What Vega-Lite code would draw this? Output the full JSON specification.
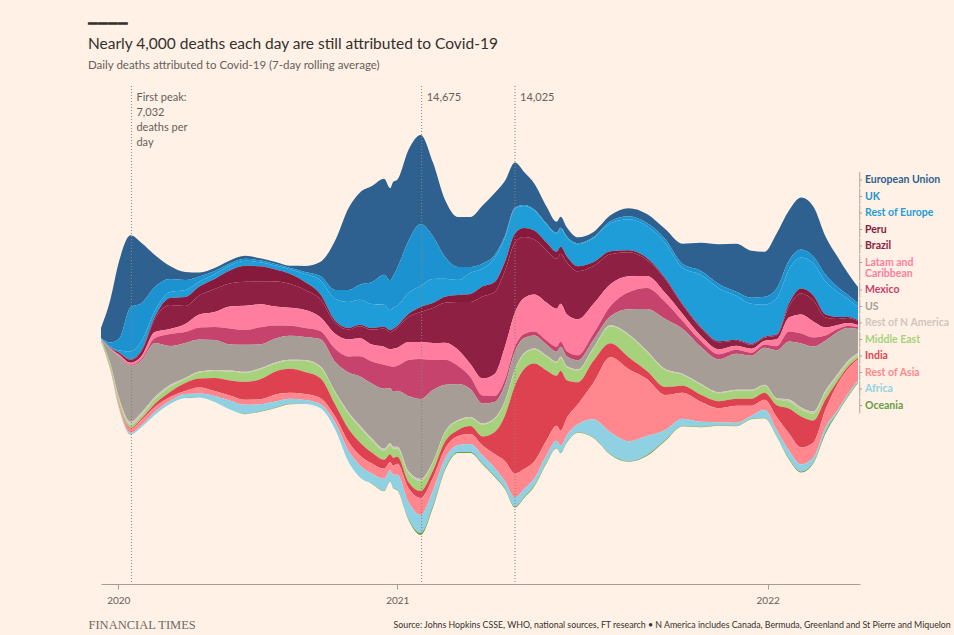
{
"$schema": "https://vega.github.io/schema/vega-lite/v6.json",
"width": 759, "height": 498,
"autosize": {"type": "none"},
"padding": {"left": 101, "top": 86, "right": 94, "bottom": 51},
"background": "#fff1e5",
"config": {"view": {"stroke": null}, "font": "Lato"},
"title": {
  "text": ["━━━━", "Nearly 4,000 deaths each day are still attributed to Covid-19"],
  "subtitle": "Daily deaths attributed to Covid-19 (7-day rolling average)",
  "anchor": "start", "frame": "group", "dx": -13, "offset": 14,
  "font": "Lato", "fontSize": 15.5, "fontWeight": "normal", "color": "#33302e", "lineHeight": 20,
  "subtitleFont": "Lato", "subtitleFontSize": 11.5, "subtitleColor": "#66605c", "subtitlePadding": 8
},
"layer": [
{
"data": {"values": [
{"d":"2020-03-15","r":"European Union","v":370},{"d":"2020-03-15","r":"UK","v":19},{"d":"2020-03-15","r":"Rest of Europe","v":11},{"d":"2020-03-15","r":"Peru","v":0},{"d":"2020-03-15","r":"Brazil","v":0},{"d":"2020-03-15","r":"Latam and Caribbean","v":4},{"d":"2020-03-15","r":"Mexico","v":0},{"d":"2020-03-15","r":"US","v":26},{"d":"2020-03-15","r":"Rest of N America","v":4},{"d":"2020-03-15","r":"Middle East","v":56},{"d":"2020-03-15","r":"India","v":0},{"d":"2020-03-15","r":"Rest of Asia","v":22},{"d":"2020-03-15","r":"Africa","v":4},{"d":"2020-03-15","r":"Oceania","v":0},
{"d":"2020-03-24","r":"European Union","v":1554},{"d":"2020-03-24","r":"UK","v":148},{"d":"2020-03-24","r":"Rest of Europe","v":37},{"d":"2020-03-24","r":"Peru","v":7},{"d":"2020-03-24","r":"Brazil","v":19},{"d":"2020-03-24","r":"Latam and Caribbean","v":19},{"d":"2020-03-24","r":"Mexico","v":7},{"d":"2020-03-24","r":"US","v":518},{"d":"2020-03-24","r":"Rest of N America","v":22},{"d":"2020-03-24","r":"Middle East","v":148},{"d":"2020-03-24","r":"India","v":11},{"d":"2020-03-24","r":"Rest of Asia","v":44},{"d":"2020-03-24","r":"Africa","v":19},{"d":"2020-03-24","r":"Oceania","v":0},
{"d":"2020-04-02","r":"European Union","v":2886},{"d":"2020-04-02","r":"UK","v":444},{"d":"2020-04-02","r":"Rest of Europe","v":74},{"d":"2020-04-02","r":"Peru","v":11},{"d":"2020-04-02","r":"Brazil","v":74},{"d":"2020-04-02","r":"Latam and Caribbean","v":56},{"d":"2020-04-02","r":"Mexico","v":19},{"d":"2020-04-02","r":"US","v":1554},{"d":"2020-04-02","r":"Rest of N America","v":74},{"d":"2020-04-02","r":"Middle East","v":148},{"d":"2020-04-02","r":"India","v":19},{"d":"2020-04-02","r":"Rest of Asia","v":111},{"d":"2020-04-02","r":"Africa","v":37},{"d":"2020-04-02","r":"Oceania","v":7},
{"d":"2020-04-13","r":"European Union","v":2664},{"d":"2020-04-13","r":"UK","v":1628},{"d":"2020-04-13","r":"Rest of Europe","v":296},{"d":"2020-04-13","r":"Peru","v":19},{"d":"2020-04-13","r":"Brazil","v":111},{"d":"2020-04-13","r":"Latam and Caribbean","v":74},{"d":"2020-04-13","r":"Mexico","v":37},{"d":"2020-04-13","r":"US","v":2072},{"d":"2020-04-13","r":"Rest of N America","v":111},{"d":"2020-04-13","r":"Middle East","v":111},{"d":"2020-04-13","r":"India","v":37},{"d":"2020-04-13","r":"Rest of Asia","v":148},{"d":"2020-04-13","r":"Africa","v":56},{"d":"2020-04-13","r":"Oceania","v":11},
{"d":"2020-04-24","r":"European Union","v":2220},{"d":"2020-04-24","r":"UK","v":1406},{"d":"2020-04-24","r":"Rest of Europe","v":333},{"d":"2020-04-24","r":"Peru","v":37},{"d":"2020-04-24","r":"Brazil","v":185},{"d":"2020-04-24","r":"Latam and Caribbean","v":111},{"d":"2020-04-24","r":"Mexico","v":56},{"d":"2020-04-24","r":"US","v":1924},{"d":"2020-04-24","r":"Rest of N America","v":111},{"d":"2020-04-24","r":"Middle East","v":111},{"d":"2020-04-24","r":"India","v":56},{"d":"2020-04-24","r":"Rest of Asia","v":185},{"d":"2020-04-24","r":"Africa","v":74},{"d":"2020-04-24","r":"Oceania","v":7},
{"d":"2020-05-07","r":"European Union","v":1184},{"d":"2020-05-07","r":"UK","v":888},{"d":"2020-05-07","r":"Rest of Europe","v":222},{"d":"2020-05-07","r":"Peru","v":74},{"d":"2020-05-07","r":"Brazil","v":481},{"d":"2020-05-07","r":"Latam and Caribbean","v":222},{"d":"2020-05-07","r":"Mexico","v":185},{"d":"2020-05-07","r":"US","v":1998},{"d":"2020-05-07","r":"Rest of N America","v":74},{"d":"2020-05-07","r":"Middle East","v":185},{"d":"2020-05-07","r":"India","v":111},{"d":"2020-05-07","r":"Rest of Asia","v":185},{"d":"2020-05-07","r":"Africa","v":111},{"d":"2020-05-07","r":"Oceania","v":7},
{"d":"2020-05-22","r":"European Union","v":481},{"d":"2020-05-22","r":"UK","v":481},{"d":"2020-05-22","r":"Rest of Europe","v":222},{"d":"2020-05-22","r":"Peru","v":259},{"d":"2020-05-22","r":"Brazil","v":888},{"d":"2020-05-22","r":"Latam and Caribbean","v":185},{"d":"2020-05-22","r":"Mexico","v":444},{"d":"2020-05-22","r":"US","v":1443},{"d":"2020-05-22","r":"Rest of N America","v":74},{"d":"2020-05-22","r":"Middle East","v":185},{"d":"2020-05-22","r":"India","v":185},{"d":"2020-05-22","r":"Rest of Asia","v":148},{"d":"2020-05-22","r":"Africa","v":111},{"d":"2020-05-22","r":"Oceania","v":7},
{"d":"2020-06-06","r":"European Union","v":296},{"d":"2020-06-06","r":"UK","v":370},{"d":"2020-06-06","r":"Rest of Europe","v":259},{"d":"2020-06-06","r":"Peru","v":333},{"d":"2020-06-06","r":"Brazil","v":666},{"d":"2020-06-06","r":"Latam and Caribbean","v":296},{"d":"2020-06-06","r":"Mexico","v":407},{"d":"2020-06-06","r":"US","v":1295},{"d":"2020-06-06","r":"Rest of N America","v":37},{"d":"2020-06-06","r":"Middle East","v":148},{"d":"2020-06-06","r":"India","v":296},{"d":"2020-06-06","r":"Rest of Asia","v":111},{"d":"2020-06-06","r":"Africa","v":148},{"d":"2020-06-06","r":"Oceania","v":7},
{"d":"2020-06-20","r":"European Union","v":148},{"d":"2020-06-20","r":"UK","v":185},{"d":"2020-06-20","r":"Rest of Europe","v":185},{"d":"2020-06-20","r":"Peru","v":333},{"d":"2020-06-20","r":"Brazil","v":703},{"d":"2020-06-20","r":"Latam and Caribbean","v":481},{"d":"2020-06-20","r":"Mexico","v":444},{"d":"2020-06-20","r":"US","v":1184},{"d":"2020-06-20","r":"Rest of N America","v":37},{"d":"2020-06-20","r":"Middle East","v":222},{"d":"2020-06-20","r":"India","v":333},{"d":"2020-06-20","r":"Rest of Asia","v":222},{"d":"2020-06-20","r":"Africa","v":148},{"d":"2020-06-20","r":"Oceania","v":7},
{"d":"2020-07-05","r":"European Union","v":111},{"d":"2020-07-05","r":"UK","v":111},{"d":"2020-07-05","r":"Rest of Europe","v":185},{"d":"2020-07-05","r":"Peru","v":370},{"d":"2020-07-05","r":"Brazil","v":851},{"d":"2020-07-05","r":"Latam and Caribbean","v":555},{"d":"2020-07-05","r":"Mexico","v":481},{"d":"2020-07-05","r":"US","v":1110},{"d":"2020-07-05","r":"Rest of N America","v":37},{"d":"2020-07-05","r":"Middle East","v":259},{"d":"2020-07-05","r":"India","v":481},{"d":"2020-07-05","r":"Rest of Asia","v":185},{"d":"2020-07-05","r":"Africa","v":222},{"d":"2020-07-05","r":"Oceania","v":7},
{"d":"2020-07-20","r":"European Union","v":111},{"d":"2020-07-20","r":"UK","v":74},{"d":"2020-07-20","r":"Rest of Europe","v":185},{"d":"2020-07-20","r":"Peru","v":481},{"d":"2020-07-20","r":"Brazil","v":851},{"d":"2020-07-20","r":"Latam and Caribbean","v":814},{"d":"2020-07-20","r":"Mexico","v":592},{"d":"2020-07-20","r":"US","v":962},{"d":"2020-07-20","r":"Rest of N America","v":37},{"d":"2020-07-20","r":"Middle East","v":333},{"d":"2020-07-20","r":"India","v":555},{"d":"2020-07-20","r":"Rest of Asia","v":185},{"d":"2020-07-20","r":"Africa","v":333},{"d":"2020-07-20","r":"Oceania","v":7},
{"d":"2020-08-04","r":"European Union","v":111},{"d":"2020-08-04","r":"UK","v":74},{"d":"2020-08-04","r":"Rest of Europe","v":185},{"d":"2020-08-04","r":"Peru","v":592},{"d":"2020-08-04","r":"Brazil","v":888},{"d":"2020-08-04","r":"Latam and Caribbean","v":888},{"d":"2020-08-04","r":"Mexico","v":555},{"d":"2020-08-04","r":"US","v":999},{"d":"2020-08-04","r":"Rest of N America","v":37},{"d":"2020-08-04","r":"Middle East","v":333},{"d":"2020-08-04","r":"India","v":666},{"d":"2020-08-04","r":"Rest of Asia","v":185},{"d":"2020-08-04","r":"Africa","v":333},{"d":"2020-08-04","r":"Oceania","v":11},
{"d":"2020-08-19","r":"European Union","v":74},{"d":"2020-08-19","r":"UK","v":74},{"d":"2020-08-19","r":"Rest of Europe","v":148},{"d":"2020-08-19","r":"Peru","v":555},{"d":"2020-08-19","r":"Brazil","v":851},{"d":"2020-08-19","r":"Latam and Caribbean","v":851},{"d":"2020-08-19","r":"Mexico","v":629},{"d":"2020-08-19","r":"US","v":888},{"d":"2020-08-19","r":"Rest of N America","v":37},{"d":"2020-08-19","r":"Middle East","v":370},{"d":"2020-08-19","r":"India","v":740},{"d":"2020-08-19","r":"Rest of Asia","v":185},{"d":"2020-08-19","r":"Africa","v":259},{"d":"2020-08-19","r":"Oceania","v":11},
{"d":"2020-09-03","r":"European Union","v":74},{"d":"2020-09-03","r":"UK","v":56},{"d":"2020-09-03","r":"Rest of Europe","v":148},{"d":"2020-09-03","r":"Peru","v":444},{"d":"2020-09-03","r":"Brazil","v":925},{"d":"2020-09-03","r":"Latam and Caribbean","v":703},{"d":"2020-09-03","r":"Mexico","v":481},{"d":"2020-09-03","r":"US","v":888},{"d":"2020-09-03","r":"Rest of N America","v":37},{"d":"2020-09-03","r":"Middle East","v":296},{"d":"2020-09-03","r":"India","v":851},{"d":"2020-09-03","r":"Rest of Asia","v":259},{"d":"2020-09-03","r":"Africa","v":222},{"d":"2020-09-03","r":"Oceania","v":11},
{"d":"2020-09-17","r":"European Union","v":74},{"d":"2020-09-17","r":"UK","v":56},{"d":"2020-09-17","r":"Rest of Europe","v":167},{"d":"2020-09-17","r":"Peru","v":370},{"d":"2020-09-17","r":"Brazil","v":888},{"d":"2020-09-17","r":"Latam and Caribbean","v":666},{"d":"2020-09-17","r":"Mexico","v":370},{"d":"2020-09-17","r":"US","v":888},{"d":"2020-09-17","r":"Rest of N America","v":37},{"d":"2020-09-17","r":"Middle East","v":296},{"d":"2020-09-17","r":"India","v":888},{"d":"2020-09-17","r":"Rest of Asia","v":222},{"d":"2020-09-17","r":"Africa","v":185},{"d":"2020-09-17","r":"Oceania","v":11},
{"d":"2020-10-02","r":"European Union","v":222},{"d":"2020-10-02","r":"UK","v":74},{"d":"2020-10-02","r":"Rest of Europe","v":296},{"d":"2020-10-02","r":"Peru","v":296},{"d":"2020-10-02","r":"Brazil","v":740},{"d":"2020-10-02","r":"Latam and Caribbean","v":666},{"d":"2020-10-02","r":"Mexico","v":333},{"d":"2020-10-02","r":"US","v":851},{"d":"2020-10-02","r":"Rest of N America","v":37},{"d":"2020-10-02","r":"Middle East","v":407},{"d":"2020-10-02","r":"India","v":814},{"d":"2020-10-02","r":"Rest of Asia","v":222},{"d":"2020-10-02","r":"Africa","v":148},{"d":"2020-10-02","r":"Oceania","v":7},
{"d":"2020-10-17","r":"European Union","v":518},{"d":"2020-10-17","r":"UK","v":148},{"d":"2020-10-17","r":"Rest of Europe","v":518},{"d":"2020-10-17","r":"Peru","v":185},{"d":"2020-10-17","r":"Brazil","v":666},{"d":"2020-10-17","r":"Latam and Caribbean","v":518},{"d":"2020-10-17","r":"Mexico","v":296},{"d":"2020-10-17","r":"US","v":999},{"d":"2020-10-17","r":"Rest of N America","v":37},{"d":"2020-10-17","r":"Middle East","v":407},{"d":"2020-10-17","r":"India","v":740},{"d":"2020-10-17","r":"Rest of Asia","v":222},{"d":"2020-10-17","r":"Africa","v":148},{"d":"2020-10-17","r":"Oceania","v":7},
{"d":"2020-11-01","r":"European Union","v":1850},{"d":"2020-11-01","r":"UK","v":333},{"d":"2020-11-01","r":"Rest of Europe","v":814},{"d":"2020-11-01","r":"Peru","v":74},{"d":"2020-11-01","r":"Brazil","v":407},{"d":"2020-11-01","r":"Latam and Caribbean","v":555},{"d":"2020-11-01","r":"Mexico","v":481},{"d":"2020-11-01","r":"US","v":1110},{"d":"2020-11-01","r":"Rest of N America","v":37},{"d":"2020-11-01","r":"Middle East","v":444},{"d":"2020-11-01","r":"India","v":444},{"d":"2020-11-01","r":"Rest of Asia","v":222},{"d":"2020-11-01","r":"Africa","v":259},{"d":"2020-11-01","r":"Oceania","v":7},
{"d":"2020-11-14","r":"European Union","v":3034},{"d":"2020-11-14","r":"UK","v":444},{"d":"2020-11-14","r":"Rest of Europe","v":962},{"d":"2020-11-14","r":"Peru","v":56},{"d":"2020-11-14","r":"Brazil","v":370},{"d":"2020-11-14","r":"Latam and Caribbean","v":629},{"d":"2020-11-14","r":"Mexico","v":592},{"d":"2020-11-14","r":"US","v":1480},{"d":"2020-11-14","r":"Rest of N America","v":56},{"d":"2020-11-14","r":"Middle East","v":555},{"d":"2020-11-14","r":"India","v":481},{"d":"2020-11-14","r":"Rest of Asia","v":333},{"d":"2020-11-14","r":"Africa","v":407},{"d":"2020-11-14","r":"Oceania","v":7},
{"d":"2020-11-25","r":"European Union","v":3404},{"d":"2020-11-25","r":"UK","v":555},{"d":"2020-11-25","r":"Rest of Europe","v":925},{"d":"2020-11-25","r":"Peru","v":56},{"d":"2020-11-25","r":"Brazil","v":444},{"d":"2020-11-25","r":"Latam and Caribbean","v":666},{"d":"2020-11-25","r":"Mexico","v":740},{"d":"2020-11-25","r":"US","v":1813},{"d":"2020-11-25","r":"Rest of N America","v":74},{"d":"2020-11-25","r":"Middle East","v":555},{"d":"2020-11-25","r":"India","v":481},{"d":"2020-11-25","r":"Rest of Asia","v":370},{"d":"2020-11-25","r":"Africa","v":444},{"d":"2020-11-25","r":"Oceania","v":7},
{"d":"2020-12-07","r":"European Union","v":3552},{"d":"2020-12-07","r":"UK","v":814},{"d":"2020-12-07","r":"Rest of Europe","v":888},{"d":"2020-12-07","r":"Peru","v":56},{"d":"2020-12-07","r":"Brazil","v":555},{"d":"2020-12-07","r":"Latam and Caribbean","v":629},{"d":"2020-12-07","r":"Mexico","v":814},{"d":"2020-12-07","r":"US","v":2035},{"d":"2020-12-07","r":"Rest of N America","v":74},{"d":"2020-12-07","r":"Middle East","v":444},{"d":"2020-12-07","r":"India","v":407},{"d":"2020-12-07","r":"Rest of Asia","v":370},{"d":"2020-12-07","r":"Africa","v":370},{"d":"2020-12-07","r":"Oceania","v":11},
{"d":"2020-12-19","r":"European Union","v":3552},{"d":"2020-12-19","r":"UK","v":1110},{"d":"2020-12-19","r":"Rest of Europe","v":814},{"d":"2020-12-19","r":"Peru","v":74},{"d":"2020-12-19","r":"Brazil","v":666},{"d":"2020-12-19","r":"Latam and Caribbean","v":666},{"d":"2020-12-19","r":"Mexico","v":888},{"d":"2020-12-19","r":"US","v":2220},{"d":"2020-12-19","r":"Rest of N America","v":74},{"d":"2020-12-19","r":"Middle East","v":333},{"d":"2020-12-19","r":"India","v":333},{"d":"2020-12-19","r":"Rest of Asia","v":370},{"d":"2020-12-19","r":"Africa","v":444},{"d":"2020-12-19","r":"Oceania","v":11},
{"d":"2020-12-25","r":"European Union","v":3404},{"d":"2020-12-25","r":"UK","v":1110},{"d":"2020-12-25","r":"Rest of Europe","v":740},{"d":"2020-12-25","r":"Peru","v":74},{"d":"2020-12-25","r":"Brazil","v":629},{"d":"2020-12-25","r":"Latam and Caribbean","v":629},{"d":"2020-12-25","r":"Mexico","v":814},{"d":"2020-12-25","r":"US","v":2035},{"d":"2020-12-25","r":"Rest of N America","v":74},{"d":"2020-12-25","r":"Middle East","v":333},{"d":"2020-12-25","r":"India","v":296},{"d":"2020-12-25","r":"Rest of Asia","v":296},{"d":"2020-12-25","r":"Africa","v":407},{"d":"2020-12-25","r":"Oceania","v":11},
{"d":"2020-12-28","r":"European Union","v":3478},{"d":"2020-12-28","r":"UK","v":1184},{"d":"2020-12-28","r":"Rest of Europe","v":777},{"d":"2020-12-28","r":"Peru","v":74},{"d":"2020-12-28","r":"Brazil","v":666},{"d":"2020-12-28","r":"Latam and Caribbean","v":666},{"d":"2020-12-28","r":"Mexico","v":925},{"d":"2020-12-28","r":"US","v":2035},{"d":"2020-12-28","r":"Rest of N America","v":74},{"d":"2020-12-28","r":"Middle East","v":333},{"d":"2020-12-28","r":"India","v":296},{"d":"2020-12-28","r":"Rest of Asia","v":333},{"d":"2020-12-28","r":"Africa","v":481},{"d":"2020-12-28","r":"Oceania","v":11},
{"d":"2021-01-01","r":"European Union","v":3256},{"d":"2021-01-01","r":"UK","v":1406},{"d":"2021-01-01","r":"Rest of Europe","v":740},{"d":"2021-01-01","r":"Peru","v":74},{"d":"2021-01-01","r":"Brazil","v":740},{"d":"2021-01-01","r":"Latam and Caribbean","v":666},{"d":"2021-01-01","r":"Mexico","v":925},{"d":"2021-01-01","r":"US","v":2072},{"d":"2021-01-01","r":"Rest of N America","v":74},{"d":"2021-01-01","r":"Middle East","v":296},{"d":"2021-01-01","r":"India","v":259},{"d":"2021-01-01","r":"Rest of Asia","v":407},{"d":"2021-01-01","r":"Africa","v":555},{"d":"2021-01-01","r":"Oceania","v":19},
{"d":"2021-01-12","r":"European Union","v":3367},{"d":"2021-01-12","r":"UK","v":1924},{"d":"2021-01-12","r":"Rest of Europe","v":777},{"d":"2021-01-12","r":"Peru","v":111},{"d":"2021-01-12","r":"Brazil","v":925},{"d":"2021-01-12","r":"Latam and Caribbean","v":666},{"d":"2021-01-12","r":"Mexico","v":1332},{"d":"2021-01-12","r":"US","v":2775},{"d":"2021-01-12","r":"Rest of N America","v":74},{"d":"2021-01-12","r":"Middle East","v":333},{"d":"2021-01-12","r":"India","v":222},{"d":"2021-01-12","r":"Rest of Asia","v":518},{"d":"2021-01-12","r":"Africa","v":629},{"d":"2021-01-12","r":"Oceania","v":37},
{"d":"2021-01-24","r":"European Union","v":3293},{"d":"2021-01-24","r":"UK","v":2294},{"d":"2021-01-24","r":"Rest of Europe","v":777},{"d":"2021-01-24","r":"Peru","v":185},{"d":"2021-01-24","r":"Brazil","v":1110},{"d":"2021-01-24","r":"Latam and Caribbean","v":629},{"d":"2021-01-24","r":"Mexico","v":1480},{"d":"2021-01-24","r":"US","v":2960},{"d":"2021-01-24","r":"Rest of N America","v":74},{"d":"2021-01-24","r":"Middle East","v":370},{"d":"2021-01-24","r":"India","v":259},{"d":"2021-01-24","r":"Rest of Asia","v":629},{"d":"2021-01-24","r":"Africa","v":666},{"d":"2021-01-24","r":"Oceania","v":74},
{"d":"2021-02-05","r":"European Union","v":2738},{"d":"2021-02-05","r":"UK","v":1591},{"d":"2021-02-05","r":"Rest of Europe","v":888},{"d":"2021-02-05","r":"Peru","v":185},{"d":"2021-02-05","r":"Brazil","v":1295},{"d":"2021-02-05","r":"Latam and Caribbean","v":629},{"d":"2021-02-05","r":"Mexico","v":1110},{"d":"2021-02-05","r":"US","v":2664},{"d":"2021-02-05","r":"Rest of N America","v":37},{"d":"2021-02-05","r":"Middle East","v":296},{"d":"2021-02-05","r":"India","v":259},{"d":"2021-02-05","r":"Rest of Asia","v":481},{"d":"2021-02-05","r":"Africa","v":555},{"d":"2021-02-05","r":"Oceania","v":74},
{"d":"2021-02-17","r":"European Union","v":2109},{"d":"2021-02-17","r":"UK","v":814},{"d":"2021-02-17","r":"Rest of Europe","v":666},{"d":"2021-02-17","r":"Peru","v":222},{"d":"2021-02-17","r":"Brazil","v":1480},{"d":"2021-02-17","r":"Latam and Caribbean","v":629},{"d":"2021-02-17","r":"Mexico","v":925},{"d":"2021-02-17","r":"US","v":1739},{"d":"2021-02-17","r":"Rest of N America","v":37},{"d":"2021-02-17","r":"Middle East","v":333},{"d":"2021-02-17","r":"India","v":259},{"d":"2021-02-17","r":"Rest of Asia","v":370},{"d":"2021-02-17","r":"Africa","v":370},{"d":"2021-02-17","r":"Oceania","v":56},
{"d":"2021-03-02","r":"European Union","v":1850},{"d":"2021-03-02","r":"UK","v":481},{"d":"2021-03-02","r":"Rest of Europe","v":555},{"d":"2021-03-02","r":"Peru","v":259},{"d":"2021-03-02","r":"Brazil","v":1776},{"d":"2021-03-02","r":"Latam and Caribbean","v":592},{"d":"2021-03-02","r":"Mexico","v":666},{"d":"2021-03-02","r":"US","v":1332},{"d":"2021-03-02","r":"Rest of N America","v":37},{"d":"2021-03-02","r":"Middle East","v":333},{"d":"2021-03-02","r":"India","v":222},{"d":"2021-03-02","r":"Rest of Asia","v":333},{"d":"2021-03-02","r":"Africa","v":259},{"d":"2021-03-02","r":"Oceania","v":37},
{"d":"2021-03-14","r":"European Union","v":1850},{"d":"2021-03-14","r":"UK","v":222},{"d":"2021-03-14","r":"Rest of Europe","v":777},{"d":"2021-03-14","r":"Peru","v":296},{"d":"2021-03-14","r":"Brazil","v":2294},{"d":"2021-03-14","r":"Latam and Caribbean","v":481},{"d":"2021-03-14","r":"Mexico","v":444},{"d":"2021-03-14","r":"US","v":1036},{"d":"2021-03-14","r":"Rest of N America","v":37},{"d":"2021-03-14","r":"Middle East","v":296},{"d":"2021-03-14","r":"India","v":296},{"d":"2021-03-14","r":"Rest of Asia","v":370},{"d":"2021-03-14","r":"Africa","v":296},{"d":"2021-03-14","r":"Oceania","v":37},
{"d":"2021-03-26","r":"European Union","v":2146},{"d":"2021-03-26","r":"UK","v":185},{"d":"2021-03-26","r":"Rest of Europe","v":666},{"d":"2021-03-26","r":"Peru","v":370},{"d":"2021-03-26","r":"Brazil","v":3034},{"d":"2021-03-26","r":"Latam and Caribbean","v":629},{"d":"2021-03-26","r":"Mexico","v":296},{"d":"2021-03-26","r":"US","v":740},{"d":"2021-03-26","r":"Rest of N America","v":37},{"d":"2021-03-26","r":"Middle East","v":444},{"d":"2021-03-26","r":"India","v":333},{"d":"2021-03-26","r":"Rest of Asia","v":370},{"d":"2021-03-26","r":"Africa","v":296},{"d":"2021-03-26","r":"Oceania","v":37},
{"d":"2021-04-07","r":"European Union","v":2294},{"d":"2021-04-07","r":"UK","v":111},{"d":"2021-04-07","r":"Rest of Europe","v":888},{"d":"2021-04-07","r":"Peru","v":370},{"d":"2021-04-07","r":"Brazil","v":3034},{"d":"2021-04-07","r":"Latam and Caribbean","v":814},{"d":"2021-04-07","r":"Mexico","v":222},{"d":"2021-04-07","r":"US","v":592},{"d":"2021-04-07","r":"Rest of N America","v":37},{"d":"2021-04-07","r":"Middle East","v":481},{"d":"2021-04-07","r":"India","v":814},{"d":"2021-04-07","r":"Rest of Asia","v":518},{"d":"2021-04-07","r":"Africa","v":296},{"d":"2021-04-07","r":"Oceania","v":37},
{"d":"2021-04-17","r":"European Union","v":2035},{"d":"2021-04-17","r":"UK","v":74},{"d":"2021-04-17","r":"Rest of Europe","v":888},{"d":"2021-04-17","r":"Peru","v":333},{"d":"2021-04-17","r":"Brazil","v":2812},{"d":"2021-04-17","r":"Latam and Caribbean","v":1221},{"d":"2021-04-17","r":"Mexico","v":185},{"d":"2021-04-17","r":"US","v":592},{"d":"2021-04-17","r":"Rest of N America","v":37},{"d":"2021-04-17","r":"Middle East","v":518},{"d":"2021-04-17","r":"India","v":1665},{"d":"2021-04-17","r":"Rest of Asia","v":740},{"d":"2021-04-17","r":"Africa","v":259},{"d":"2021-04-17","r":"Oceania","v":37},
{"d":"2021-04-27","r":"European Union","v":1665},{"d":"2021-04-27","r":"UK","v":37},{"d":"2021-04-27","r":"Rest of Europe","v":925},{"d":"2021-04-27","r":"Peru","v":333},{"d":"2021-04-27","r":"Brazil","v":2590},{"d":"2021-04-27","r":"Latam and Caribbean","v":1258},{"d":"2021-04-27","r":"Mexico","v":185},{"d":"2021-04-27","r":"US","v":666},{"d":"2021-04-27","r":"Rest of N America","v":37},{"d":"2021-04-27","r":"Middle East","v":555},{"d":"2021-04-27","r":"India","v":3256},{"d":"2021-04-27","r":"Rest of Asia","v":888},{"d":"2021-04-27","r":"Africa","v":333},{"d":"2021-04-27","r":"Oceania","v":37},
{"d":"2021-05-06","r":"European Union","v":1221},{"d":"2021-05-06","r":"UK","v":37},{"d":"2021-05-06","r":"Rest of Europe","v":814},{"d":"2021-05-06","r":"Peru","v":333},{"d":"2021-05-06","r":"Brazil","v":2257},{"d":"2021-05-06","r":"Latam and Caribbean","v":1332},{"d":"2021-05-06","r":"Mexico","v":148},{"d":"2021-05-06","r":"US","v":555},{"d":"2021-05-06","r":"Rest of N America","v":37},{"d":"2021-05-06","r":"Middle East","v":555},{"d":"2021-05-06","r":"India","v":3700},{"d":"2021-05-06","r":"Rest of Asia","v":740},{"d":"2021-05-06","r":"Africa","v":296},{"d":"2021-05-06","r":"Oceania","v":37},
{"d":"2021-05-16","r":"European Union","v":962},{"d":"2021-05-16","r":"UK","v":37},{"d":"2021-05-16","r":"Rest of Europe","v":740},{"d":"2021-05-16","r":"Peru","v":333},{"d":"2021-05-16","r":"Brazil","v":2035},{"d":"2021-05-16","r":"Latam and Caribbean","v":1369},{"d":"2021-05-16","r":"Mexico","v":148},{"d":"2021-05-16","r":"US","v":481},{"d":"2021-05-16","r":"Rest of N America","v":37},{"d":"2021-05-16","r":"Middle East","v":518},{"d":"2021-05-16","r":"India","v":3626},{"d":"2021-05-16","r":"Rest of Asia","v":629},{"d":"2021-05-16","r":"Africa","v":259},{"d":"2021-05-16","r":"Oceania","v":37},
{"d":"2021-05-28","r":"European Union","v":629},{"d":"2021-05-28","r":"UK","v":37},{"d":"2021-05-28","r":"Rest of Europe","v":666},{"d":"2021-05-28","r":"Peru","v":296},{"d":"2021-05-28","r":"Brazil","v":1924},{"d":"2021-05-28","r":"Latam and Caribbean","v":1406},{"d":"2021-05-28","r":"Mexico","v":148},{"d":"2021-05-28","r":"US","v":407},{"d":"2021-05-28","r":"Rest of N America","v":37},{"d":"2021-05-28","r":"Middle East","v":518},{"d":"2021-05-28","r":"India","v":2590},{"d":"2021-05-28","r":"Rest of Asia","v":555},{"d":"2021-05-28","r":"Africa","v":259},{"d":"2021-05-28","r":"Oceania","v":37},
{"d":"2021-06-07","r":"European Union","v":407},{"d":"2021-06-07","r":"UK","v":37},{"d":"2021-06-07","r":"Rest of Europe","v":666},{"d":"2021-06-07","r":"Peru","v":259},{"d":"2021-06-07","r":"Brazil","v":1850},{"d":"2021-06-07","r":"Latam and Caribbean","v":1406},{"d":"2021-06-07","r":"Mexico","v":185},{"d":"2021-06-07","r":"US","v":370},{"d":"2021-06-07","r":"Rest of N America","v":37},{"d":"2021-06-07","r":"Middle East","v":481},{"d":"2021-06-07","r":"India","v":1850},{"d":"2021-06-07","r":"Rest of Asia","v":555},{"d":"2021-06-07","r":"Africa","v":259},{"d":"2021-06-07","r":"Oceania","v":19},
{"d":"2021-06-11","r":"European Union","v":407},{"d":"2021-06-11","r":"UK","v":37},{"d":"2021-06-11","r":"Rest of Europe","v":666},{"d":"2021-06-11","r":"Peru","v":259},{"d":"2021-06-11","r":"Brazil","v":1850},{"d":"2021-06-11","r":"Latam and Caribbean","v":1406},{"d":"2021-06-11","r":"Mexico","v":185},{"d":"2021-06-11","r":"US","v":370},{"d":"2021-06-11","r":"Rest of N America","v":37},{"d":"2021-06-11","r":"Middle East","v":481},{"d":"2021-06-11","r":"India","v":2220},{"d":"2021-06-11","r":"Rest of Asia","v":555},{"d":"2021-06-11","r":"Africa","v":259},{"d":"2021-06-11","r":"Oceania","v":19},
{"d":"2021-06-17","r":"European Union","v":333},{"d":"2021-06-17","r":"UK","v":37},{"d":"2021-06-17","r":"Rest of Europe","v":703},{"d":"2021-06-17","r":"Peru","v":222},{"d":"2021-06-17","r":"Brazil","v":1924},{"d":"2021-06-17","r":"Latam and Caribbean","v":1369},{"d":"2021-06-17","r":"Mexico","v":185},{"d":"2021-06-17","r":"US","v":370},{"d":"2021-06-17","r":"Rest of N America","v":37},{"d":"2021-06-17","r":"Middle East","v":481},{"d":"2021-06-17","r":"India","v":1406},{"d":"2021-06-17","r":"Rest of Asia","v":629},{"d":"2021-06-17","r":"Africa","v":259},{"d":"2021-06-17","r":"Oceania","v":19},
{"d":"2021-06-28","r":"European Union","v":222},{"d":"2021-06-28","r":"UK","v":37},{"d":"2021-06-28","r":"Rest of Europe","v":814},{"d":"2021-06-28","r":"Peru","v":185},{"d":"2021-06-28","r":"Brazil","v":1776},{"d":"2021-06-28","r":"Latam and Caribbean","v":1332},{"d":"2021-06-28","r":"Mexico","v":185},{"d":"2021-06-28","r":"US","v":333},{"d":"2021-06-28","r":"Rest of N America","v":37},{"d":"2021-06-28","r":"Middle East","v":444},{"d":"2021-06-28","r":"India","v":814},{"d":"2021-06-28","r":"Rest of Asia","v":740},{"d":"2021-06-28","r":"Africa","v":296},{"d":"2021-06-28","r":"Oceania","v":11},
{"d":"2021-07-13","r":"European Union","v":185},{"d":"2021-07-13","r":"UK","v":37},{"d":"2021-07-13","r":"Rest of Europe","v":888},{"d":"2021-07-13","r":"Peru","v":148},{"d":"2021-07-13","r":"Brazil","v":1406},{"d":"2021-07-13","r":"Latam and Caribbean","v":1110},{"d":"2021-07-13","r":"Mexico","v":222},{"d":"2021-07-13","r":"US","v":296},{"d":"2021-07-13","r":"Rest of N America","v":37},{"d":"2021-07-13","r":"Middle East","v":444},{"d":"2021-07-13","r":"India","v":814},{"d":"2021-07-13","r":"Rest of Asia","v":1332},{"d":"2021-07-13","r":"Africa","v":666},{"d":"2021-07-13","r":"Oceania","v":11},
{"d":"2021-07-30","r":"European Union","v":222},{"d":"2021-07-30","r":"UK","v":74},{"d":"2021-07-30","r":"Rest of Europe","v":1036},{"d":"2021-07-30","r":"Peru","v":111},{"d":"2021-07-30","r":"Brazil","v":1110},{"d":"2021-07-30","r":"Latam and Caribbean","v":814},{"d":"2021-07-30","r":"Mexico","v":370},{"d":"2021-07-30","r":"US","v":333},{"d":"2021-07-30","r":"Rest of N America","v":37},{"d":"2021-07-30","r":"Middle East","v":629},{"d":"2021-07-30","r":"India","v":518},{"d":"2021-07-30","r":"Rest of Asia","v":2775},{"d":"2021-07-30","r":"Africa","v":814},{"d":"2021-07-30","r":"Oceania","v":11},
{"d":"2021-08-17","r":"European Union","v":296},{"d":"2021-08-17","r":"UK","v":111},{"d":"2021-08-17","r":"Rest of Europe","v":1147},{"d":"2021-08-17","r":"Peru","v":74},{"d":"2021-08-17","r":"Brazil","v":888},{"d":"2021-08-17","r":"Latam and Caribbean","v":592},{"d":"2021-08-17","r":"Mexico","v":629},{"d":"2021-08-17","r":"US","v":925},{"d":"2021-08-17","r":"Rest of N America","v":37},{"d":"2021-08-17","r":"Middle East","v":814},{"d":"2021-08-17","r":"India","v":444},{"d":"2021-08-17","r":"Rest of Asia","v":2664},{"d":"2021-08-17","r":"Africa","v":740},{"d":"2021-08-17","r":"Oceania","v":19},
{"d":"2021-09-04","r":"European Union","v":333},{"d":"2021-09-04","r":"UK","v":111},{"d":"2021-09-04","r":"Rest of Europe","v":1184},{"d":"2021-09-04","r":"Peru","v":74},{"d":"2021-09-04","r":"Brazil","v":592},{"d":"2021-09-04","r":"Latam and Caribbean","v":444},{"d":"2021-09-04","r":"Mexico","v":777},{"d":"2021-09-04","r":"US","v":1554},{"d":"2021-09-04","r":"Rest of N America","v":37},{"d":"2021-09-04","r":"Middle East","v":703},{"d":"2021-09-04","r":"India","v":296},{"d":"2021-09-04","r":"Rest of Asia","v":2109},{"d":"2021-09-04","r":"Africa","v":703},{"d":"2021-09-04","r":"Oceania","v":37},
{"d":"2021-09-22","r":"European Union","v":370},{"d":"2021-09-22","r":"UK","v":148},{"d":"2021-09-22","r":"Rest of Europe","v":1295},{"d":"2021-09-22","r":"Peru","v":37},{"d":"2021-09-22","r":"Brazil","v":518},{"d":"2021-09-22","r":"Latam and Caribbean","v":333},{"d":"2021-09-22","r":"Mexico","v":629},{"d":"2021-09-22","r":"US","v":1850},{"d":"2021-09-22","r":"Rest of N America","v":37},{"d":"2021-09-22","r":"Middle East","v":629},{"d":"2021-09-22","r":"India","v":296},{"d":"2021-09-22","r":"Rest of Asia","v":1295},{"d":"2021-09-22","r":"Africa","v":370},{"d":"2021-09-22","r":"Oceania","v":37},
{"d":"2021-10-09","r":"European Union","v":740},{"d":"2021-10-09","r":"UK","v":148},{"d":"2021-10-09","r":"Rest of Europe","v":1332},{"d":"2021-10-09","r":"Peru","v":37},{"d":"2021-10-09","r":"Brazil","v":333},{"d":"2021-10-09","r":"Latam and Caribbean","v":259},{"d":"2021-10-09","r":"Mexico","v":296},{"d":"2021-10-09","r":"US","v":1665},{"d":"2021-10-09","r":"Rest of N America","v":37},{"d":"2021-10-09","r":"Middle East","v":407},{"d":"2021-10-09","r":"India","v":259},{"d":"2021-10-09","r":"Rest of Asia","v":962},{"d":"2021-10-09","r":"Africa","v":259},{"d":"2021-10-09","r":"Oceania","v":19},
{"d":"2021-10-27","r":"European Union","v":1036},{"d":"2021-10-27","r":"UK","v":148},{"d":"2021-10-27","r":"Rest of Europe","v":1924},{"d":"2021-10-27","r":"Peru","v":37},{"d":"2021-10-27","r":"Brazil","v":296},{"d":"2021-10-27","r":"Latam and Caribbean","v":185},{"d":"2021-10-27","r":"Mexico","v":222},{"d":"2021-10-27","r":"US","v":1369},{"d":"2021-10-27","r":"Rest of N America","v":37},{"d":"2021-10-27","r":"Middle East","v":370},{"d":"2021-10-27","r":"India","v":259},{"d":"2021-10-27","r":"Rest of Asia","v":740},{"d":"2021-10-27","r":"Africa","v":185},{"d":"2021-10-27","r":"Oceania","v":19},
{"d":"2021-11-14","r":"European Union","v":1480},{"d":"2021-11-14","r":"UK","v":148},{"d":"2021-11-14","r":"Rest of Europe","v":1961},{"d":"2021-11-14","r":"Peru","v":37},{"d":"2021-11-14","r":"Brazil","v":259},{"d":"2021-11-14","r":"Latam and Caribbean","v":185},{"d":"2021-11-14","r":"Mexico","v":185},{"d":"2021-11-14","r":"US","v":1221},{"d":"2021-11-14","r":"Rest of N America","v":37},{"d":"2021-11-14","r":"Middle East","v":296},{"d":"2021-11-14","r":"India","v":259},{"d":"2021-11-14","r":"Rest of Asia","v":518},{"d":"2021-11-14","r":"Africa","v":111},{"d":"2021-11-14","r":"Oceania","v":19},
{"d":"2021-12-01","r":"European Union","v":1776},{"d":"2021-12-01","r":"UK","v":148},{"d":"2021-12-01","r":"Rest of Europe","v":1628},{"d":"2021-12-01","r":"Peru","v":37},{"d":"2021-12-01","r":"Brazil","v":185},{"d":"2021-12-01","r":"Latam and Caribbean","v":148},{"d":"2021-12-01","r":"Mexico","v":148},{"d":"2021-12-01","r":"US","v":1332},{"d":"2021-12-01","r":"Rest of N America","v":37},{"d":"2021-12-01","r":"Middle East","v":296},{"d":"2021-12-01","r":"India","v":259},{"d":"2021-12-01","r":"Rest of Asia","v":629},{"d":"2021-12-01","r":"Africa","v":111},{"d":"2021-12-01","r":"Oceania","v":19},
{"d":"2021-12-16","r":"European Union","v":1739},{"d":"2021-12-16","r":"UK","v":222},{"d":"2021-12-16","r":"Rest of Europe","v":1480},{"d":"2021-12-16","r":"Peru","v":37},{"d":"2021-12-16","r":"Brazil","v":148},{"d":"2021-12-16","r":"Latam and Caribbean","v":148},{"d":"2021-12-16","r":"Mexico","v":111},{"d":"2021-12-16","r":"US","v":1258},{"d":"2021-12-16","r":"Rest of N America","v":37},{"d":"2021-12-16","r":"Middle East","v":296},{"d":"2021-12-16","r":"India","v":259},{"d":"2021-12-16","r":"Rest of Asia","v":370},{"d":"2021-12-16","r":"Africa","v":111},{"d":"2021-12-16","r":"Oceania","v":19},
{"d":"2021-12-29","r":"European Union","v":1665},{"d":"2021-12-29","r":"UK","v":296},{"d":"2021-12-29","r":"Rest of Europe","v":1184},{"d":"2021-12-29","r":"Peru","v":37},{"d":"2021-12-29","r":"Brazil","v":111},{"d":"2021-12-29","r":"Latam and Caribbean","v":148},{"d":"2021-12-29","r":"Mexico","v":111},{"d":"2021-12-29","r":"US","v":1369},{"d":"2021-12-29","r":"Rest of N America","v":37},{"d":"2021-12-29","r":"Middle East","v":259},{"d":"2021-12-29","r":"India","v":259},{"d":"2021-12-29","r":"Rest of Asia","v":370},{"d":"2021-12-29","r":"Africa","v":296},{"d":"2021-12-29","r":"Oceania","v":19},
{"d":"2022-01-10","r":"European Union","v":2035},{"d":"2022-01-10","r":"UK","v":370},{"d":"2022-01-10","r":"Rest of Europe","v":1332},{"d":"2022-01-10","r":"Peru","v":37},{"d":"2022-01-10","r":"Brazil","v":148},{"d":"2022-01-10","r":"Latam and Caribbean","v":259},{"d":"2022-01-10","r":"Mexico","v":148},{"d":"2022-01-10","r":"US","v":1776},{"d":"2022-01-10","r":"Rest of N America","v":37},{"d":"2022-01-10","r":"Middle East","v":222},{"d":"2022-01-10","r":"India","v":444},{"d":"2022-01-10","r":"Rest of Asia","v":481},{"d":"2022-01-10","r":"Africa","v":222},{"d":"2022-01-10","r":"Oceania","v":19},
{"d":"2022-01-22","r":"European Union","v":1850},{"d":"2022-01-22","r":"UK","v":333},{"d":"2022-01-22","r":"Rest of Europe","v":1258},{"d":"2022-01-22","r":"Peru","v":111},{"d":"2022-01-22","r":"Brazil","v":407},{"d":"2022-01-22","r":"Latam and Caribbean","v":518},{"d":"2022-01-22","r":"Mexico","v":370},{"d":"2022-01-22","r":"US","v":2146},{"d":"2022-01-22","r":"Rest of N America","v":74},{"d":"2022-01-22","r":"Middle East","v":259},{"d":"2022-01-22","r":"India","v":925},{"d":"2022-01-22","r":"Rest of Asia","v":629},{"d":"2022-01-22","r":"Africa","v":296},{"d":"2022-01-22","r":"Oceania","v":37},
{"d":"2022-02-03","r":"European Union","v":1924},{"d":"2022-02-03","r":"UK","v":296},{"d":"2022-02-03","r":"Rest of Europe","v":1147},{"d":"2022-02-03","r":"Peru","v":185},{"d":"2022-02-03","r":"Brazil","v":777},{"d":"2022-02-03","r":"Latam and Caribbean","v":703},{"d":"2022-02-03","r":"Mexico","v":370},{"d":"2022-02-03","r":"US","v":2368},{"d":"2022-02-03","r":"Rest of N America","v":74},{"d":"2022-02-03","r":"Middle East","v":259},{"d":"2022-02-03","r":"India","v":1147},{"d":"2022-02-03","r":"Rest of Asia","v":629},{"d":"2022-02-03","r":"Africa","v":259},{"d":"2022-02-03","r":"Oceania","v":37},
{"d":"2022-02-15","r":"European Union","v":1850},{"d":"2022-02-15","r":"UK","v":259},{"d":"2022-02-15","r":"Rest of Europe","v":1184},{"d":"2022-02-15","r":"Peru","v":185},{"d":"2022-02-15","r":"Brazil","v":777},{"d":"2022-02-15","r":"Latam and Caribbean","v":592},{"d":"2022-02-15","r":"Mexico","v":333},{"d":"2022-02-15","r":"US","v":2405},{"d":"2022-02-15","r":"Rest of N America","v":74},{"d":"2022-02-15","r":"Middle East","v":259},{"d":"2022-02-15","r":"India","v":814},{"d":"2022-02-15","r":"Rest of Asia","v":555},{"d":"2022-02-15","r":"Africa","v":185},{"d":"2022-02-15","r":"Oceania","v":37},
{"d":"2022-02-27","r":"European Union","v":1406},{"d":"2022-02-27","r":"UK","v":259},{"d":"2022-02-27","r":"Rest of Europe","v":1221},{"d":"2022-02-27","r":"Peru","v":111},{"d":"2022-02-27","r":"Brazil","v":370},{"d":"2022-02-27","r":"Latam and Caribbean","v":296},{"d":"2022-02-27","r":"Mexico","v":185},{"d":"2022-02-27","r":"US","v":1850},{"d":"2022-02-27","r":"Rest of N America","v":74},{"d":"2022-02-27","r":"Middle East","v":259},{"d":"2022-02-27","r":"India","v":370},{"d":"2022-02-27","r":"Rest of Asia","v":666},{"d":"2022-02-27","r":"Africa","v":148},{"d":"2022-02-27","r":"Oceania","v":74},
{"d":"2022-03-11","r":"European Union","v":1110},{"d":"2022-03-11","r":"UK","v":185},{"d":"2022-03-11","r":"Rest of Europe","v":925},{"d":"2022-03-11","r":"Peru","v":74},{"d":"2022-03-11","r":"Brazil","v":222},{"d":"2022-03-11","r":"Latam and Caribbean","v":148},{"d":"2022-03-11","r":"Mexico","v":111},{"d":"2022-03-11","r":"US","v":1554},{"d":"2022-03-11","r":"Rest of N America","v":74},{"d":"2022-03-11","r":"Middle East","v":185},{"d":"2022-03-11","r":"India","v":111},{"d":"2022-03-11","r":"Rest of Asia","v":962},{"d":"2022-03-11","r":"Africa","v":74},{"d":"2022-03-11","r":"Oceania","v":37},
{"d":"2022-03-21","r":"European Union","v":814},{"d":"2022-03-21","r":"UK","v":148},{"d":"2022-03-21","r":"Rest of Europe","v":666},{"d":"2022-03-21","r":"Peru","v":37},{"d":"2022-03-21","r":"Brazil","v":185},{"d":"2022-03-21","r":"Latam and Caribbean","v":111},{"d":"2022-03-21","r":"Mexico","v":74},{"d":"2022-03-21","r":"US","v":1221},{"d":"2022-03-21","r":"Rest of N America","v":74},{"d":"2022-03-21","r":"Middle East","v":148},{"d":"2022-03-21","r":"India","v":74},{"d":"2022-03-21","r":"Rest of Asia","v":925},{"d":"2022-03-21","r":"Africa","v":74},{"d":"2022-03-21","r":"Oceania","v":37},
{"d":"2022-03-31","r":"European Union","v":592},{"d":"2022-03-31","r":"UK","v":148},{"d":"2022-03-31","r":"Rest of Europe","v":481},{"d":"2022-03-31","r":"Peru","v":37},{"d":"2022-03-31","r":"Brazil","v":148},{"d":"2022-03-31","r":"Latam and Caribbean","v":74},{"d":"2022-03-31","r":"Mexico","v":74},{"d":"2022-03-31","r":"US","v":888},{"d":"2022-03-31","r":"Rest of N America","v":74},{"d":"2022-03-31","r":"Middle East","v":111},{"d":"2022-03-31","r":"India","v":56},{"d":"2022-03-31","r":"Rest of Asia","v":777},{"d":"2022-03-31","r":"Africa","v":56},{"d":"2022-03-31","r":"Oceania","v":37}
]},
"transform": [{"calculate": "indexof(['Oceania','Africa','Rest of Asia','India','Middle East','Rest of N America','US','Mexico','Latam and Caribbean','Brazil','Peru','Rest of Europe','UK','European Union'], datum.r)", "as": "k"}],
"mark": {"type": "area", "interpolate": "monotone"},
"encoding": {
  "x": {"field": "d", "type": "temporal",
    "scale": {"type": "utc", "nice": false, "domain": [{"year": 2020, "month": 3, "date": 15, "utc": true}, {"year": 2022, "month": 4, "date": 2, "utc": true}]},
    "axis": {"values": [{"year": 2020, "month": 4, "date": 1, "utc": true}, {"year": 2021, "month": 1, "date": 1, "utc": true}, {"year": 2022, "month": 1, "date": 1, "utc": true}],
      "labelExpr": "utcFormat(datum.value, '%Y')", "grid": false, "domainColor": "#a59e97", "tickColor": "#a59e97", "tickSize": 5, "labelPadding": 6,
      "labelFont": "Lato", "labelFontSize": 10, "labelColor": "#66605c",
      "title": "Source: Johns Hopkins CSSE, WHO, national sources, FT research • N America includes Canada, Bermuda, Greenland and St Pierre and Miquelon",
      "titleFont": "Lato", "titleFontSize": 8.8, "titleFontWeight": "normal", "titleColor": "#33302e", "titleAnchor": "start", "titleAlign": "left", "titleBaseline": "alphabetic", "titleX": 292, "titleY": 43}},
  "y": {"field": "v", "type": "quantitative", "stack": "center",
    "scale": {"domain": [-1813, 16613], "nice": false, "zero": false},
    "axis": {"title": "FINANCIAL TIMES", "labels": false, "ticks": false, "domain": false, "grid": false, "titleAngle": 0, "titleAlign": "left", "titleBaseline": "alphabetic", "titleX": -13, "titleY": 542, "titleFont": "Liberation Serif", "titleFontSize": 12.5, "titleFontWeight": "normal", "titleColor": "#6f6a65"}},
  "color": {"field": "r", "type": "nominal",
    "sort": ["European Union","UK","Rest of Europe","Peru","Brazil","Latam and Caribbean","Mexico","US","Rest of N America","Middle East","India","Rest of Asia","Africa","Oceania"],
    "scale": {"domain": ["European Union","UK","Rest of Europe","Peru","Brazil","Latam and Caribbean","Mexico","US","Rest of N America","Middle East","India","Rest of Asia","Africa","Oceania"],
              "range": ["#2e6190","#1c92d0","#1f9dd9","#851a3d","#8e2044","#ff7ea0","#c6436e","#a69d96","#cfc7bf","#a7d27c","#de4250","#ff878d","#8fd1e3","#6a9c47"]},
    "legend": {"orient": "none", "legendX": 758, "legendY": 88, "title": null, "padding": 0, "rowPadding": -3.5,
      "symbolType": "M-1,-1.5L-1,1.5M-1,0L-0.55,0", "symbolSize": 110, "symbolStrokeWidth": 1, "labelOffset": -6,
      "labelFont": "Lato", "labelFontSize": 10.5, "labelFontWeight": "bold", "labelLimit": 200, "labelBaseline": "middle",
      "labelExpr": "datum.label == 'Latam and Caribbean' ? ['Latam and', 'Caribbean'] : datum.label",
      "encode": {"symbols": {"update": {"fill": {"value": "transparent"}, "stroke": {"value": "#aaa49e"}, "strokeWidth": {"value": 1}, "opacity": {"value": 1},
                   "shape": {"signal": "datum.value == 'Latam and Caribbean' ? 'M-1,-1.5L-1,3.5M-1,0L-0.55,0' : 'M-1,-1.5L-1,1.5M-1,0L-0.55,0'"}}},
                 "labels": {"update": {"fill": {"scale": "color", "field": "value"}, "lineHeight": {"value": 11}}}}}},
  "order": {"field": "k", "type": "quantitative"}
}
},
{
"data": {"values": [{"d": "2020-04-14", "t": "First peak:\n7,032\ndeaths per\nday"}, {"d": "2021-01-25", "t": "14,675"}, {"d": "2021-04-27", "t": "14,025"}]},
"mark": {"type": "rule", "strokeDash": [1, 2], "color": "#8a837d", "strokeWidth": 1},
"encoding": {"x": {"field": "d", "type": "temporal"}}
},
{
"data": {"values": [{"d": "2020-04-14", "t": "First peak:\n7,032\ndeaths per\nday"}, {"d": "2021-01-25", "t": "14,675"}, {"d": "2021-04-27", "t": "14,025"}]},
"mark": {"type": "text", "align": "left", "baseline": "top", "dx": 5, "dy": 6, "lineBreak": "\n", "lineHeight": 15, "fontSize": 11, "font": "Lato", "color": "#66605c"},
"encoding": {"x": {"field": "d", "type": "temporal"}, "y": {"value": 0}, "text": {"field": "t"}}
}
]
}
